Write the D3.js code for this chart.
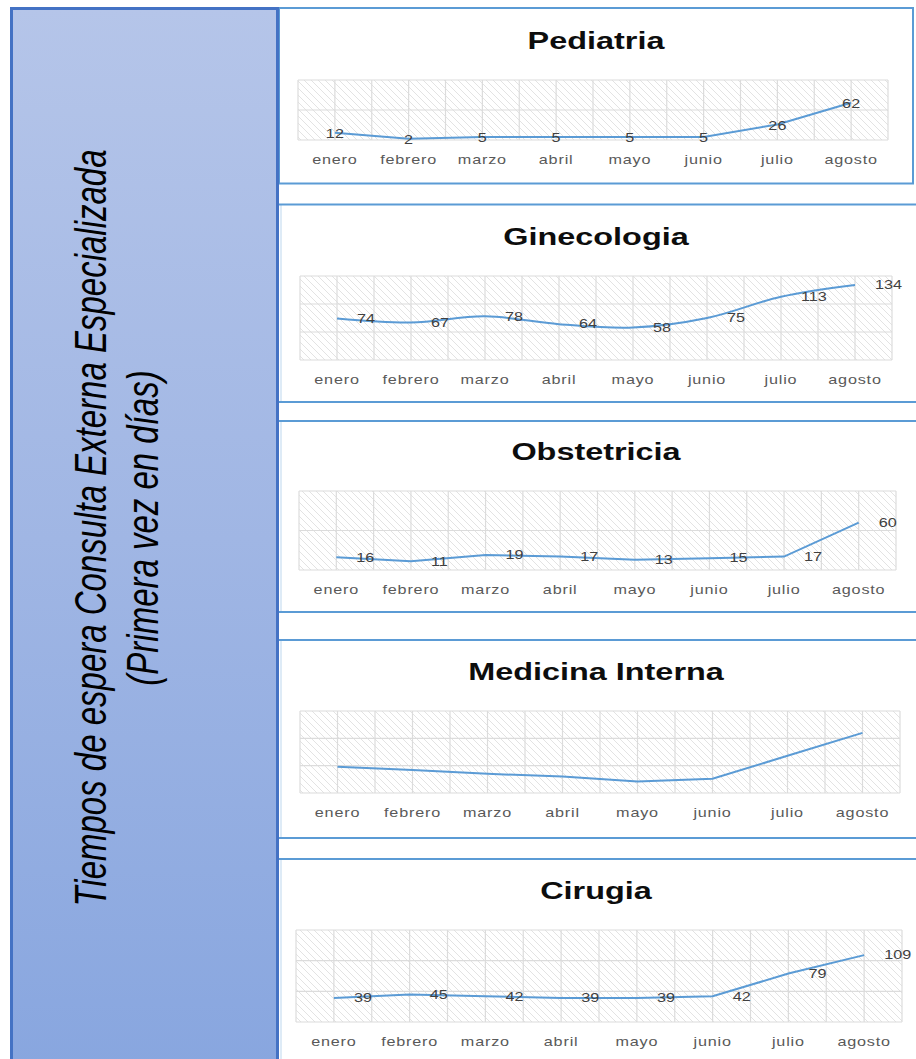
<!DOCTYPE html>
<html><head><meta charset="utf-8">
<script src="https://cdn.jsdelivr.net/npm/d3@7"></script>
<style>html,body{margin:0;padding:0;background:#fff;} svg{display:block;}</style>
</head><body>
<svg id="c" width="916" height="1059"></svg>
<script>
// ---------- data ----------
const months = ["enero","febrero","marzo","abril","mayo","junio","julio","agosto"];
const pediatria = [12,2,5,5,5,5,26,62];
const ginecologia = [74,67,78,64,58,75,113,134];
const obstetricia = [16,11,19,17,13,15,17,60];
const medicinaInterna = [48,42,35,30,21,26,68,110];
const cirugia = [39,45,42,39,39,42,79,109];
const panelTitles = ["Pediatria","Ginecologia","Obstetricia","Medicina Interna","Cirugia"];
const sideTitle = ["Tiempos de espera Consulta Externa Especializada","(Primera vez en días)"];

// ---------- layout ----------
const SX = 1.35; // horizontal stretch of text as in the reference
const layout = [
  {data: pediatria,       x0:298, x1:888, top:80,  bottom:140,  max:100, labels:"center", smooth:false, panelTop:8,   panelBottom:183.5, box:true, showLabels:true},
  {data: ginecologia,     x0:300, x1:892, top:276, bottom:360,  max:150, labels:"right",  smooth:true,  panelTop:204.5, panelBottom:402, box:false, showLabels:true},
  {data: obstetricia,     x0:299, x1:896, top:491, bottom:570,  max:100, labels:"right",  smooth:false, panelTop:421, panelBottom:612, box:false, showLabels:true},
  {data: medicinaInterna, x0:300, x1:900, top:711, bottom:793,  max:150, labels:"right",  smooth:false, panelTop:640, panelBottom:838, box:false, showLabels:false},
  {data: cirugia,         x0:296, x1:902, top:930, bottom:1022, max:150, labels:"right",  smooth:false, panelTop:859, panelBottom:1070, box:false, showLabels:true}
];

const svg = d3.select("#c");
const defs = svg.append("defs");
const pat = defs.append("pattern").attr("id","hatch").attr("patternUnits","userSpaceOnUse")
  .attr("width",7).attr("height",7);
pat.append("rect").attr("width",7).attr("height",7).attr("fill","#fff");
pat.append("path").attr("d","M-1,-1 L8,8 M-1,6 L1,8 M6,-1 L8,1")
  .attr("stroke","#e0e0e0").attr("stroke-width",0.9).attr("fill","none");

const grad = defs.append("linearGradient").attr("id","lg").attr("x1",0).attr("y1",0).attr("x2",0).attr("y2",1);
grad.append("stop").attr("offset","0%").attr("stop-color","#b5c5e9");
grad.append("stop").attr("offset","50%").attr("stop-color","#a0b6e4");
grad.append("stop").attr("offset","100%").attr("stop-color","#88a6df");

// ---------- right panels ----------
layout.forEach((p, k) => {
  const g = svg.append("g");
  if (p.box) {
    g.append("rect").attr("x",279).attr("y",p.panelTop).attr("width",634).attr("height",p.panelBottom-p.panelTop)
      .attr("fill","#fff").attr("stroke","#5b9bd5").attr("stroke-width",2);
  } else {
    g.append("line").attr("x1",281).attr("x2",281).attr("y1",p.panelTop).attr("y2",p.panelBottom)
      .attr("stroke","#bdd7ee").attr("stroke-width",1);
    [p.panelTop, p.panelBottom].forEach(yy => {
      g.append("line").attr("x1",279).attr("x2",916).attr("y1",yy).attr("y2",yy)
        .attr("stroke","#5b9bd5").attr("stroke-width",2.2);
    });
  }

  const x = d3.scaleBand().domain(months).range([p.x0, p.x1]).padding(0);
  const y = d3.scaleLinear().domain([0, p.max]).range([p.bottom, p.top]);
  const bw = x.bandwidth();
  const cx = m => x(m) + bw/2;

  g.append("rect").attr("x",p.x0).attr("y",p.top).attr("width",p.x1-p.x0).attr("height",p.bottom-p.top)
    .attr("fill","url(#hatch)");
  g.selectAll(".hg").data(d3.range(0, p.max+1, 50)).enter().append("line")
    .attr("x1",p.x0).attr("x2",p.x1).attr("y1",d=>y(d)).attr("y2",d=>y(d))
    .attr("stroke","#dcdcdc").attr("stroke-width",1.2);
  const vpos = [];
  months.forEach(m => { vpos.push(x(m)); vpos.push(cx(m)); });
  vpos.push(p.x1);
  g.selectAll(".vg").data(vpos).enter().append("line")
    .attr("x1",d=>d).attr("x2",d=>d).attr("y1",p.top).attr("y2",p.bottom)
    .attr("stroke","#dcdcdc").attr("stroke-width",1.2);

  g.append("text").attr("transform",`translate(596,${p.top-40}) scale(${SX},1)`)
    .attr("text-anchor","middle").attr("dy","0.36em")
    .style("font-family","'Liberation Sans', Arial, sans-serif").style("font-weight","bold")
    .style("font-size","24px").attr("fill","#0d0d0d").text(panelTitles[k]);

  const ax = g.append("g").attr("transform",`translate(0,${p.bottom})`)
    .call(d3.axisBottom(x).tickSize(0).tickPadding(0));
  ax.select(".domain").remove();
  ax.selectAll("text").attr("y",20).attr("dy","0.35em")
    .attr("transform",`scale(${SX},1)`)
    .style("font-family","'Liberation Sans', Arial, sans-serif").style("font-size","12px")
    .style("letter-spacing","0.6px").attr("fill","#595959");

  const line = d3.line().x((d,i)=>cx(months[i])).y(d=>y(d))
    .curve(p.smooth ? d3.curveCatmullRom.alpha(0.5) : d3.curveLinear);
  g.append("path").datum(p.data).attr("d",line).attr("fill","none")
    .attr("stroke","#5b9bd5").attr("stroke-width",2);

  if (p.showLabels) {
    g.selectAll(".lbl").data(p.data).enter().append("text")
      .attr("transform",(d,i)=> p.labels==="center"
          ? `translate(${cx(months[i])},${y(d)+1}) scale(${SX},1)`
          : `translate(${cx(months[i])+20},${y(d)}) scale(${SX},1)`)
      .attr("text-anchor", p.labels==="center" ? "middle" : "start")
      .attr("dy","0.36em")
      .style("font-family","'Liberation Sans', Arial, sans-serif").style("font-size","12px")
      .attr("fill","#404040").text(d=>d);
  }
});

// ---------- left side panel ----------
svg.append("rect").attr("x",11.5).attr("y",8.5).attr("width",266).attr("height",1060)
  .attr("fill","url(#lg)").attr("stroke","#4472c4").attr("stroke-width",3);
const baseX = [106, 158];
sideTitle.forEach((t,i) => {
  svg.append("text").attr("transform",`translate(${baseX[i]},528) scale(${SX},1) rotate(-90)`)
    .attr("text-anchor","middle")
    .style("font-family","'Liberation Sans', Arial, sans-serif").style("font-style","italic")
    .style("font-size","33px").attr("fill","#000").text(t);
});
</script>
</body></html>
